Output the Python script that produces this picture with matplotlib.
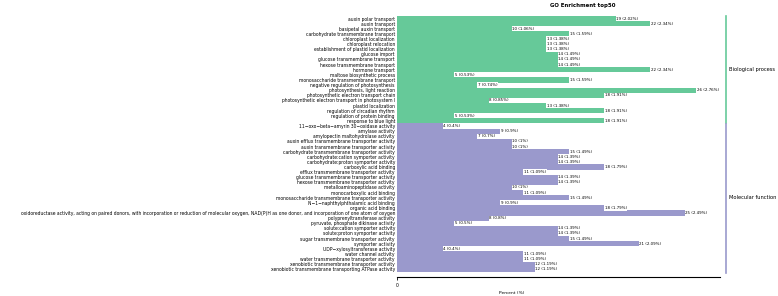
import numpy as np
import matplotlib
matplotlib.use('Agg')
import matplotlib.pyplot as plt

bp_terms = [
    'auxin polar transport', 'auxin transport', 'basipetal auxin transport',
    'carbohydrate transmembrane transport', 'chloroplast localization',
    'chloroplast relocation', 'establishment of plastid localization',
    'glucose import', 'glucose transmembrane transport',
    'hexose transmembrane transport', 'hormone transport',
    'maltose biosynthetic process', 'monosaccharide transmembrane transport',
    'negative regulation of photosynthesis', 'photosynthesis, light reaction',
    'photosynthetic electron transport chain',
    'photosynthetic electron transport in photosystem I',
    'plastid localization', 'regulation of circadian rhythm',
    'regulation of protein binding', 'response to blue light',
]
bp_counts = [19, 22, 10, 15, 13, 13, 13, 14, 14, 14, 22, 5, 15, 7, 26, 18, 8, 13, 18, 5, 18]
bp_pct = [2.02, 2.34, 1.06, 1.59, 1.38, 1.38, 1.38, 1.49, 1.49, 1.49, 2.34, 0.53, 1.59,
          0.74, 2.76, 1.91, 0.85, 1.38, 1.91, 0.53, 1.91]

mf_terms = [
    '11\u2212oxo\u2212beta\u2212amyrin 30\u2212oxidase activity', 'amylase activity',
    'amylopectin maltohydrolase activity',
    'auxin efflux transmembrane transporter activity',
    'auxin transmembrane transporter activity',
    'carbohydrate transmembrane transporter activity',
    'carbohydrate:cation symporter activity',
    'carbohydrate:proton symporter activity', 'carboxylic acid binding',
    'efflux transmembrane transporter activity',
    'glucose transmembrane transporter activity',
    'hexose transmembrane transporter activity',
    'metalloaminopeptidase activity', 'monocarboxylic acid binding',
    'monosaccharide transmembrane transporter activity',
    'N\u22121\u2212naphthylphthalamic acid binding', 'organic acid binding',
    'oxidoreductase activity, acting on paired donors, with incorporation or reduction '
    'of molecular oxygen, NAD(P)H as one donor, and incorporation of one atom of oxygen',
    'polyprenyltransferase activity', 'pyruvate, phosphate dikinase activity',
    'solute:cation symporter activity', 'solute:proton symporter activity',
    'sugar transmembrane transporter activity', 'symporter activity',
    'UDP\u2212xylosyltransferase activity', 'water channel activity',
    'water transmembrane transporter activity',
    'xenobiotic transmembrane transporter activity',
    'xenobiotic transmembrane transporting ATPase activity',
]
mf_counts = [4, 9, 7, 10, 10, 15, 14, 14, 18, 11, 14, 14, 10, 11, 15, 9, 18, 25, 8, 5,
             14, 14, 15, 21, 4, 11, 11, 12, 12]
mf_pct = [0.4, 0.9, 0.7, 1, 1, 1.49, 1.39, 1.39, 1.79, 1.09, 1.39, 1.39, 1, 1.09, 1.49,
          0.9, 1.79, 2.49, 0.8, 0.5, 1.39, 1.39, 1.49, 2.09, 0.4, 1.09, 1.09, 1.19, 1.19]

green = '#66c999'
purple = '#9a99cc'

terms = bp_terms + mf_terms
counts = bp_counts + mf_counts
pct = bp_pct + mf_pct
colors = [green] * len(bp_terms) + [purple] * len(mf_terms)
y = np.arange(len(terms))

fig = plt.figure(figsize=(7.78, 2.96), dpi=100)
ax = fig.add_axes([397 / 778, 1 - 277 / 296, 323 / 778, 261 / 296])
ax.barh(y, counts, height=1.0, color=colors, linewidth=0)
for yi, c, p in zip(y, counts, pct):
    ax.text(c, yi, '%d (%s%%)' % (c, ('%g' % p)), fontsize=2.9, va='center', ha='left',
            bbox=dict(boxstyle='square,pad=0.15', fc='white', ec='none'))

ax.set_xlim(0, 28)
ax.set_ylim(50.5, -0.5)
ax.set_yticks(y)
ax.set_yticklabels(terms, fontsize=3.25)
ax.tick_params(axis='y', length=0, pad=1.5)
ax.set_xticks([0])
ax.tick_params(axis='x', labelsize=3.3, length=2.5, width=0.6, pad=1.5)
for s in ['left', 'right', 'top']:
    ax.spines[s].set_visible(False)
ax.spines['bottom'].set_linewidth(0.8)

# group brackets on the right
nb = len(bp_terms)
ax.plot([1.019, 1.019], [-0.5, nb - 0.6], color=green, lw=1.2,
        transform=ax.get_yaxis_transform(), clip_on=False)
ax.plot([1.019, 1.019], [nb - 0.4, len(terms) - 0.3], color=purple, lw=1.2,
        transform=ax.get_yaxis_transform(), clip_on=False)
ax.text(1.027, (nb - 1) / 2, 'Biological process', fontsize=3.7, va='center',
        transform=ax.get_yaxis_transform())
ax.text(1.027, nb + (len(mf_terms) - 1) / 2, 'Molecular function', fontsize=3.7, va='center',
        transform=ax.get_yaxis_transform())

fig.text(583 / 778, 1 - 5 / 296, 'GO Enrichment top50', fontsize=3.9, fontweight='bold',
         ha='center', va='center')
fig.text(512 / 778, 1 - 293 / 296, 'Percent (%)', fontsize=3.2, ha='center', va='center')

fig.savefig('out.png', dpi=100)
